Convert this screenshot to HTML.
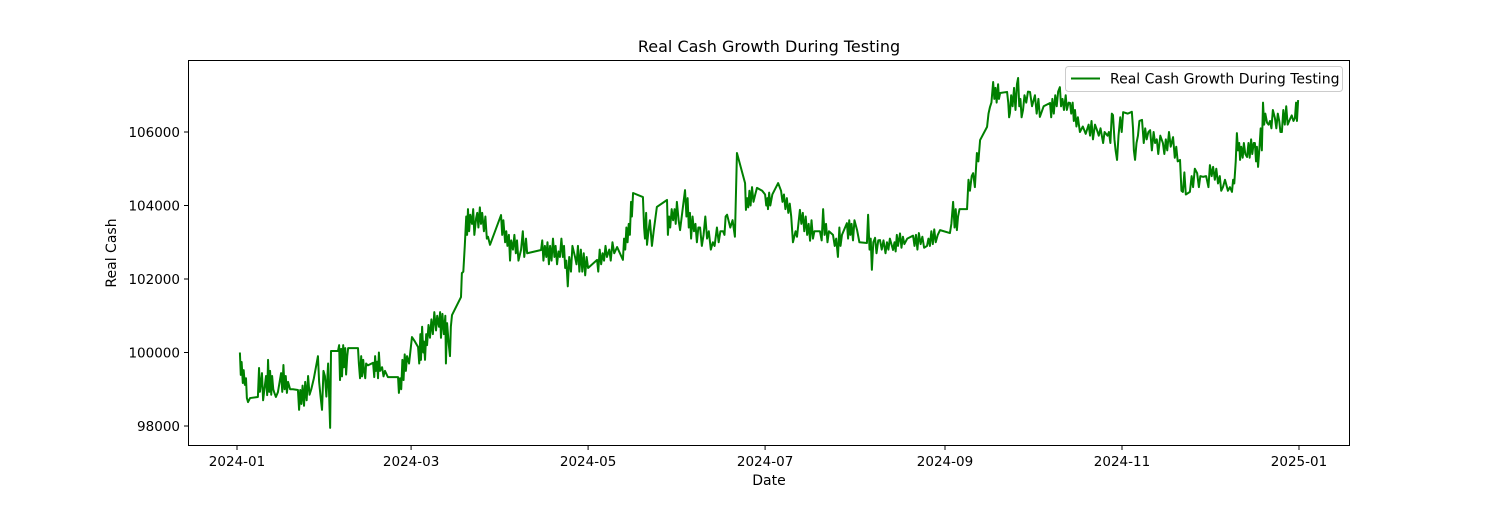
<!DOCTYPE html>
<html><head><meta charset="utf-8"><style>
html,body{margin:0;padding:0;background:#fff;}
svg text{font-family:"DejaVu Sans","Liberation Sans",sans-serif;fill:#000;}
</style></head><body>
<svg id="chart" width="1500" height="500" xmlns="http://www.w3.org/2000/svg">
<rect x="0" y="0" width="1500" height="500" fill="#fff"/>
<text x="769" y="52" font-size="16" text-anchor="middle">Real Cash Growth During Testing</text>
<g id="grid"></g>
<g id="series"></g>
<rect x="188.5" y="60.5" width="1161" height="385" fill="none" stroke="#000" stroke-width="1"/>
<g id="xaxis"></g><g id="yaxis"></g>
<text x="769" y="485" font-size="14" text-anchor="middle">Date</text>
<text x="116" y="253" font-size="14" text-anchor="middle" transform="rotate(-90 116 253)">Real Cash</text>
<g>
<rect x="1065.5" y="66.5" width="277" height="25" rx="3" fill="#fff" fill-opacity="0.8" stroke="#ccc"/>
<line x1="1071" y1="78.5" x2="1100" y2="78.5" stroke="#008000" stroke-width="2"/>
<text x="1110" y="83.5" font-size="14">Real Cash Growth During Testing</text>
</g>
</svg>
<script>
const xTickLabels = ["2024-01","2024-03","2024-05","2024-07","2024-09","2024-11","2025-01"];
const xTickDays = [0,60,121,182,244,305,366];
const yTickValues = [98000,100000,102000,104000,106000];
const days = [1,1.3,1.6,2,2.3,2.7,3.1,3.4,3.8,4.5,7.2,7.6,7.9,8.3,8.6,9,9.3,10,10.4,10.7,11.1,11.4,11.8,12.1,12.5,12.8,13.4,14.1,15.2,15.6,16,16.4,16.8,17.2,17.6,18.3,19.3,21,21.4,21.8,22.2,22.6,23.1,23.5,24,24.5,25,25.6,26.5,27.9,28.3,28.8,29.3,29.8,30.3,30.8,31.4,32.1,32.4,34.8,35.2,35.5,35.9,36.2,36.6,36.9,37.3,37.6,38,38.3,38.9,41.7,42,42.4,42.8,43.1,43.5,43.8,44.2,44.5,45.1,46.9,47.3,47.6,47.9,48.3,48.6,48.9,49.3,50,50.5,51,52,52.7,55.5,55.8,56.2,56.6,57,57.4,57.8,58.2,58.6,59.3,60.3,61.3,62.4,62.8,63.2,63.4,63.8,64.2,64.4,64.8,65.2,65.5,66,66.5,67,67.5,68,68.6,69,69.6,70,70.3,70.8,71.3,71.8,72,72.4,73,73.4,73.7,74.1,77.2,77.5,78,78.5,79,79.3,79.6,80,80.4,81,81.4,81.8,82.4,82.8,83.2,83.7,84.1,84.5,85.1,85.6,86.1,86.5,87.2,91,91.4,91.8,92.4,92.8,93.2,93.7,94.1,94.5,95.1,95.6,96.1,96.5,97,97.9,98.5,99,99.6,100,104.8,105.2,105.6,106.1,106.6,107,107.5,107.9,108.4,108.9,109.4,109.8,110.3,110.8,111.3,111.8,112.3,112.7,113.1,113.5,114,114.5,115.1,115.6,116.5,117,117.5,118,118.5,119,119.5,120,120.5,121,124.1,124.5,125,125.5,126,126.5,127,127.5,128.3,128.8,129.4,130,131,133,133.4,133.8,134.2,134.6,135,135.4,135.8,136.1,136.5,139.9,140.3,140.6,141,141.3,141.8,142.3,143,143.6,144.1,144.7,148.2,148.5,148.9,149.3,149.8,150.3,150.8,151.2,151.6,152.2,152.7,154.4,154.9,155.3,155.7,156.1,156.5,157,157.5,158,158.5,159,159.6,160.2,160.8,161.4,162,162.6,163.3,164,164.6,165.4,166,166.6,167.5,168,168.4,168.9,170,170.8,171.6,172.3,175.1,175.4,175.8,176.2,176.6,177,177.5,178,178.6,179.2,181,182,182.4,182.8,183,183.4,183.8,184.5,186.5,187.5,188,188.5,189,189.5,190,190.5,191,191.6,192.5,193,194,194.5,195,195.5,196,196.5,197,197.5,198,198.5,199,200.9,201.5,202,202.5,203,203.5,204,205.4,206,206.5,207.1,207.6,208,208.5,210.2,210.6,211,211.4,211.8,212.3,212.8,213.7,214.5,217.1,217.5,218,218.4,218.8,219.3,219.9,220.4,221,221.6,222.2,222.8,223.5,224,224.5,225,226.1,226.6,227,227.4,227.8,228.5,229,229.5,230,231,233,233.5,234,234.5,235,235.6,236.2,236.8,237.8,238.3,238.8,239.3,239.8,240.3,240.8,241.5,242.3,245.7,246.2,246.8,247.3,247.7,248.1,248.5,249,250,251.6,252.1,252.6,253.2,253.7,254.3,255,255.5,256.1,258.5,259,259.5,260,260.6,261,261.4,261.8,262.3,262.6,263,265.4,265.8,266.1,266.4,266.8,267.3,267.8,268.3,268.8,269.2,269.6,270,270.4,270.9,271.4,272,272.6,273.3,274,275,275.6,276.2,276.7,278,280.2,280.6,281,281.5,282,282.5,283,283.6,284,284.5,285,285.6,286,286.6,287.1,287.5,288,288.4,288.8,289.3,289.8,290.5,291.5,292.5,293.5,294,294.5,295,295.7,296.4,297,297.6,298.5,299,300,300.5,301,301.5,301.9,302.4,302.8,303.3,303.8,304.4,304.9,305.4,307,308.4,308.8,309.1,309.5,310,310.5,311,311.9,312.5,313,313.5,314.1,314.7,315.3,315.9,316.4,317,317.5,318.2,319.1,319.6,320.1,320.6,321.2,321.8,322.6,323.2,323.7,324.2,325,325.5,326,326.5,327,328.4,329,329.5,330.1,330.9,331.5,332,332.9,334,334.8,335.3,335.9,336.4,337,337.5,338.1,338.7,339.2,339.8,340.5,341.5,342.2,342.9,343.3,343.7,344.2,344.6,345,345.4,345.7,346.1,346.6,347,347.5,348.1,348.6,349,349.5,349.9,350.4,350.8,351.2,351.5,351.9,352.4,352.8,353.2,353.6,354,354.4,355,355.5,356,356.5,357,357.7,358.2,358.7,359.2,359.6,360.1,360.6,361.1,361.6,362.1,362.9,363.5,364.1,364.6,365,365.3,365.7];
const cash = [100000,99390,99740,99170,99520,99120,99300,98760,98650,98760,98790,99580,98930,99200,99440,98700,98900,99360,98840,99800,98930,99500,98850,99360,99000,98920,98790,98920,99440,98930,99660,99000,99360,98900,99200,99000,99000,98980,98440,98980,98600,99100,98550,99200,98700,99360,98850,99000,99300,99900,99200,98800,98440,99500,99360,98800,99700,97950,100040,100040,100200,99250,100100,99350,100200,99600,100120,99400,99900,100120,100120,100120,99700,99300,99900,99350,99800,99500,99300,99700,99650,99720,99330,99900,99500,99750,99300,100000,99500,99600,99350,99500,99330,99330,99330,98900,99300,99000,99800,99250,99950,99500,99900,99700,100420,100300,100150,99700,100500,99800,100700,100000,100300,99800,100500,100200,100750,100400,100900,100500,101100,100600,101000,100700,101100,100400,101050,100500,101000,99700,100800,100200,99900,100700,101020,101510,102160,102200,102900,103700,103200,103900,103300,103750,103500,103900,103200,103650,103800,103400,103950,103500,103800,103300,103700,103100,103150,102930,103740,103200,103600,103000,103300,102900,103200,102500,103050,102800,103200,102700,103050,102500,102800,103300,102600,103100,102700,102790,103050,102500,102900,102600,103000,102400,102900,102500,103100,102600,102900,102400,102750,102600,103100,102600,102900,102300,102500,101800,102600,102200,102900,102600,102400,102900,102200,102800,102200,102700,102100,102600,102300,102520,102200,102800,102400,102700,102500,102900,102600,102800,102500,103000,102700,102870,102520,103100,102800,103400,103000,103500,103200,104100,103700,104340,104230,103400,103100,103800,102930,103300,103600,102900,103300,103600,103960,104150,103200,103700,103400,103900,103600,103900,103500,104100,103600,103330,104420,103700,104200,103400,103800,103100,103700,103300,103500,103000,103400,103400,102900,103200,103700,103100,103300,102800,103000,102900,103400,103000,103300,103300,103200,103700,103750,103400,103600,103150,105430,104610,103880,104200,103950,104400,104000,104500,104100,104300,104480,104400,104300,104000,104200,103900,104350,104000,104300,104610,104400,104100,104300,103900,104200,103800,104050,103700,103000,103300,103150,103880,103500,103800,103300,103700,103200,103500,103040,103600,103100,103300,103300,103050,103900,103200,103500,103000,103300,103200,102900,103100,102600,103400,102900,103200,103520,103100,103600,103200,103500,103050,103600,103330,103000,102980,103750,102800,103100,102250,103000,103120,102700,103050,103060,102800,103050,102700,103000,102800,103100,102790,103000,102750,103200,102900,103240,102850,103150,102950,103100,103180,102900,103200,102800,103250,102950,103150,102850,102900,103100,102900,103300,102950,103350,103000,103200,103330,103250,103500,104100,103400,103900,103330,103700,103900,103900,103900,104700,104400,104800,104880,104500,105430,105200,105780,106140,106500,106680,106800,107360,106900,107200,106800,107300,106900,107060,107090,106800,106400,106520,107000,106700,107200,106600,107300,107470,106700,106900,106400,106600,107000,106800,107100,107090,106700,107000,106500,106900,106410,106700,106790,106400,106900,106500,107000,106700,107100,107220,106700,106900,106600,107000,106600,106800,106790,106500,106800,106300,106600,106150,106400,106000,106150,105950,106200,105900,106300,105800,106200,106050,105900,106100,105700,106000,105900,106000,105700,106500,106460,105800,105500,105240,105900,106400,106000,106540,106500,106550,106100,105500,105240,105700,105900,106300,106330,105700,106100,105800,106000,106050,105500,106000,105700,105800,105400,105900,105700,105400,105800,105500,106000,105600,105860,105300,105600,105200,105240,104400,104370,104900,104300,104370,104800,104500,105000,104880,104500,104800,104780,104800,104500,105100,104800,105050,104700,105000,104600,104800,104400,104500,104700,104400,104500,104370,104700,104600,105200,105970,105500,105700,105240,105600,105300,105700,105400,105320,105700,105300,105800,105400,105700,105700,105200,105600,105050,105600,106100,105500,106800,106200,106500,106250,106200,106300,106100,106600,106380,106100,106500,106300,106000,106000,106600,106200,106700,106200,106350,106450,106300,106380,106800,106300,106870];

const NS = "http://www.w3.org/2000/svg";
const X0 = 237, PXD = 2.9016;
const Y0 = 426, PXV = 73.5/2000;
function xScale(d){ return X0 + d*PXD; }
function yScale(v){ return Y0 - (v-98000)*PXV; }

const xa = document.getElementById('xaxis');
xTickDays.forEach((d,i)=>{
  const x = xScale(d);
  const t = document.createElementNS(NS,'line');
  t.setAttribute('x1',x);t.setAttribute('x2',x);t.setAttribute('y1',445.5);t.setAttribute('y2',450);
  t.setAttribute('stroke','#000');
  
  
  xa.appendChild(t);
  const l = document.createElementNS(NS,'text');
  l.setAttribute('x',x);l.setAttribute('y',466);l.setAttribute('font-size','13.5');l.setAttribute('text-anchor','middle');
  l.textContent = xTickLabels[i];
  
  
  xa.appendChild(l);
});
const ya = document.getElementById('yaxis');
yTickValues.forEach(v=>{
  const y = yScale(v);
  const t = document.createElementNS(NS,'line');
  t.setAttribute('x1',184);t.setAttribute('x2',188.5);t.setAttribute('y1',y);t.setAttribute('y2',y);
  t.setAttribute('stroke','#000');
  
  
  ya.appendChild(t);
  const l = document.createElementNS(NS,'text');
  l.setAttribute('x',180);l.setAttribute('y',y+5);l.setAttribute('font-size','13.5');l.setAttribute('text-anchor','end');
  l.textContent = String(v);
  
  
  ya.appendChild(l);
});
const pts = days.map((d,i)=> xScale(d).toFixed(2)+','+yScale(cash[i]).toFixed(2)).join(' ');
const pl = document.createElementNS(NS,'polyline');
pl.setAttribute('points',pts);
pl.setAttribute('fill','none');pl.setAttribute('stroke','#008000');pl.setAttribute('stroke-width','2');
pl.setAttribute('stroke-linejoin','round');


document.getElementById('series').appendChild(pl);
</script>
</body></html>
